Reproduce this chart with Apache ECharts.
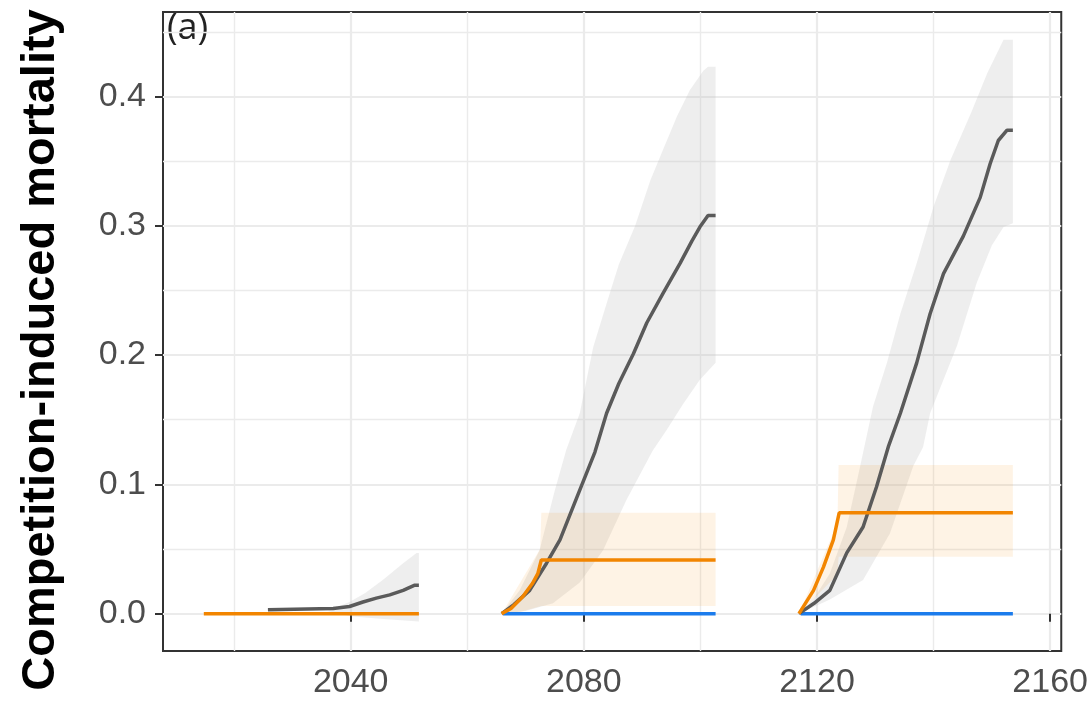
<!DOCTYPE html>
<html>
<head>
<meta charset="utf-8">
<script src="https://cdn.jsdelivr.net/npm/echarts@6/dist/echarts.min.js"></script>
<style>
html,body{margin:0;padding:0;background:#fff;}
#container1{width:1091px;height:708px;}
</style>
</head>
<body>
<div id="container1"></div>
<script>
// tick labels
var xTicks=[2040,2080,2120,2160];
var xMinor=[2020,2060,2100,2140];
var yTicks=[0,0.1,0.2,0.3,0.4];
var yMinor=[0.05,0.15,0.25,0.35,0.45];

// period 1
var orangeLine1=[[2014.8,0],[2051.7,0]];
var greyLine1=[[2025.8,0.003],[2037,0.004],[2039.8,0.0055],[2042.1,0.009],[2044.4,0.012],[2046.7,0.0145],[2049.0,0.018],[2051.0,0.022],[2051.7,0.022]];
var greyUp1=[[2036,0.002],[2039.8,0.009],[2042.5,0.016],[2045.5,0.026],[2049,0.039],[2051.3,0.047],[2051.7,0.047]];
var greyLo1=[[2036,0.002],[2040,-0.002],[2045,-0.004],[2051.7,-0.006]];

// period 2
var blueLine2=[[2066.1,0],[2102.6,0]];
var orangeLine2=[[2065.9,0],[2067.5,0.004],[2069.5,0.013],[2071.2,0.0235],[2072.1,0.031],[2072.7,0.0415],[2102.6,0.0415]];
var orangeUp2=[[2065.9,0],[2072.5,0.05],[2072.7,0.078],[2102.6,0.078]];
var orangeLo2=[[2065.9,0],[2068,0],[2072.7,0.006],[2102.6,0.006]];
var greyLine2=[[2065.9,0],[2068,0.007],[2070.7,0.018],[2073.6,0.039],[2075.9,0.057],[2078.8,0.09],[2081.9,0.125],[2083.9,0.155],[2086,0.178],[2088.5,0.201],[2090.8,0.225],[2093.6,0.248],[2096.5,0.271],[2098.5,0.288],[2099.9,0.299],[2101.3,0.308],[2102.6,0.308]];
var greyUp2=[[2065.9,0],[2069,0.018],[2072.4,0.049],[2075,0.095],[2077,0.127],[2079.3,0.155],[2081.6,0.206],[2083.9,0.24],[2086,0.27],[2088.8,0.3],[2091.4,0.335],[2093.6,0.359],[2096,0.385],[2098.2,0.405],[2100.5,0.42],[2101.3,0.423],[2102.6,0.423]];
var greyLo2=[[2065.9,0],[2070,0.002],[2074.7,0.008],[2079.3,0.024],[2083.3,0.049],[2087.3,0.088],[2091.8,0.126],[2094.2,0.142],[2097,0.162],[2099.9,0.181],[2102.6,0.194]];

// period 3
var blueLine3=[[2117.2,0],[2153.6,0]];
var orangeLine3=[[2116.9,0],[2119.4,0.018],[2121.1,0.036],[2122.8,0.057],[2123.8,0.078],[2153.6,0.078]];
var orangeUp3=[[2116.9,0],[2123.5,0.07],[2123.7,0.115],[2153.6,0.115]];
var orangeLo3=[[2116.9,0],[2123.5,0.03],[2123.7,0.044],[2153.6,0.044]];
var greyLine3=[[2116.9,0],[2119.5,0.008],[2122.2,0.018],[2125.1,0.047],[2127.9,0.067],[2130.2,0.098],[2132.3,0.13],[2134.3,0.155],[2137.1,0.194],[2139.4,0.232],[2141.7,0.263],[2145.1,0.292],[2148,0.322],[2149.7,0.348],[2151.1,0.366],[2152.6,0.374],[2153.6,0.374]];
var greyUp3=[[2116.9,0],[2119.5,0.012],[2122.2,0.031],[2125.1,0.067],[2127.4,0.114],[2129.6,0.16],[2132,0.194],[2134.3,0.232],[2137.1,0.271],[2140,0.315],[2142.9,0.351],[2146.4,0.387],[2149.2,0.418],[2152,0.444],[2153.6,0.444]];
var greyLo3=[[2116.9,0],[2122.2,0.011],[2127.9,0.026],[2132.5,0.062],[2136.5,0.114],[2138.2,0.129],[2139.4,0.155],[2144,0.207],[2147.4,0.256],[2150,0.285],[2152,0.299],[2153.6,0.302]];

var GREY_BAND='rgba(190,190,190,0.26)';
var ORANGE_BAND='rgba(242,133,0,0.1)';
var bands=[
	{up:greyUp1,lo:greyLo1,color:GREY_BAND},
	{up:greyUp2,lo:greyLo2,color:GREY_BAND},
	{up:greyUp3,lo:greyLo3,color:GREY_BAND},
	{up:orangeUp2,lo:orangeLo2,color:ORANGE_BAND},
	{up:orangeUp3,lo:orangeLo3,color:ORANGE_BAND}
];

function renderBand(params,api){
	var b=bands[params.dataIndex];
	var pts=b.up.concat(b.lo.slice().reverse()).map(function(p){return api.coord(p);});
	return {type:'polygon',shape:{points:pts},style:{fill:b.color},silent:true};
}

function lineSeries(data,color,z){
	return {type:'line',data:data,showSymbol:false,symbol:'none',z:z,silent:true,
		lineStyle:{color:color,width:3.5},itemStyle:{color:color}};
}

var gridLines=[];
for(var i=0;i<xTicks.length;++i) gridLines.push({xAxis:xTicks[i],lineStyle:{width:2.2}});
for(var i=0;i<xMinor.length;++i) gridLines.push({xAxis:xMinor[i],lineStyle:{width:1.4}});
for(var i=0;i<yTicks.length;++i) gridLines.push({yAxis:yTicks[i],lineStyle:{width:2.2}});
for(var i=0;i<yMinor.length;++i) gridLines.push({yAxis:yMinor[i],lineStyle:{width:1.4}});

var AX_FONT='"Liberation Sans", Arial, sans-serif';

var myChart=echarts.init(document.getElementById('container1'));
var option={
	animation:false,
	backgroundColor:'#fff',
	grid:{left:163,right:29,top:12,bottom:57,show:true,borderColor:'#333',borderWidth:2,backgroundColor:'transparent'},
	xAxis:{
		type:'value',min:2007.8,max:2161.9,
		axisLine:{show:false},
		splitLine:{show:false},
		axisTick:{show:true,customValues:xTicks,length:8,lineStyle:{color:'#333',width:2}},
		axisLabel:{customValues:xTicks,fontSize:34,color:'#4D4D4D',margin:15,fontFamily:AX_FONT,
			formatter:function(v){return String(v);}}
	},
	yAxis:{
		type:'value',min:-0.0289,max:0.4654,
		axisLine:{show:false},
		splitLine:{show:false},
		axisTick:{show:true,customValues:yTicks,length:8,lineStyle:{color:'#333',width:2}},
		axisLabel:{customValues:yTicks,fontSize:34,color:'#4D4D4D',margin:17,fontFamily:AX_FONT,
			formatter:function(v){return v.toFixed(1);}}
	},
	graphic:[
		{type:'text',x:41,y:350,rotation:Math.PI/2,
			style:{text:'Competition-induced mortality',font:'bold 47px "Liberation Sans", Arial, sans-serif',
				fill:'#000',textAlign:'center',textVerticalAlign:'middle'}},
		{type:'text',left:167,top:11,
			style:{text:'(a)',font:'36px "Open Sans", sans-serif',fill:'#222'}}
	],
	series:[
		{type:'line',data:[[2040,0]],showSymbol:false,symbol:'none',z:0,silent:true,
			lineStyle:{opacity:0},
			markLine:{silent:true,z:0,symbol:['none','none'],label:{show:false},animation:false,
				lineStyle:{color:'#EBEBEB',type:'solid',width:1.5},emphasis:{disabled:true},
				data:gridLines}},
		{type:'custom',renderItem:renderBand,z:1,silent:true,
			data:bands.map(function(b){return b.up[0];})},
		lineSeries(blueLine2,'#1C7CEC',10),
		lineSeries(blueLine3,'#1C7CEC',10),
		lineSeries(greyLine1,'#5A5A5A',11),
		lineSeries(greyLine2,'#5A5A5A',11),
		lineSeries(greyLine3,'#5A5A5A',11),
		lineSeries(orangeLine1,'#F28500',12),
		lineSeries(orangeLine2,'#F28500',12),
		lineSeries(orangeLine3,'#F28500',12)
	]
};
myChart.setOption(option);
</script>
</body>
</html>
